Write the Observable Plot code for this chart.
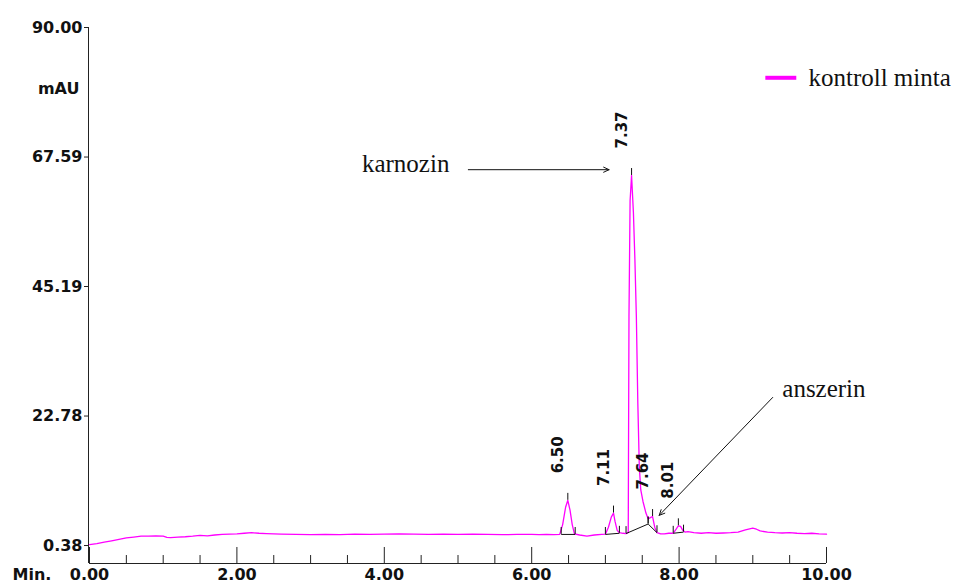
<!DOCTYPE html>
<html><head><meta charset="utf-8">
<script src="https://cdn.jsdelivr.net/npm/d3@7"></script>
<script src="https://cdn.jsdelivr.net/npm/@observablehq/plot@0.6"></script>
<style>
html,body{margin:0;padding:0;background:#fff;}
#chart{width:956px;height:585px;}
</style></head><body><div id="chart"></div>
<script>
// Chromatogram trace (retention time in min, absorbance in mAU)
const time = [0.00,0.10,0.20,0.30,0.40,0.50,0.60,0.70,0.80,0.90,1.00,1.05,1.10,1.20,1.30,1.40,1.50,1.60,1.70,1.80,1.90,2.00,2.10,2.20,2.30,2.40,2.50,2.60,2.80,3.00,3.20,3.40,3.60,3.80,4.00,4.20,4.40,4.60,4.80,5.00,5.20,5.40,5.60,5.80,6.00,6.10,6.20,6.30,6.38,6.42,6.46,6.49,6.52,6.55,6.58,6.65,6.75,6.85,6.95,7.00,7.04,7.08,7.11,7.13,7.16,7.19,7.24,7.28,7.31,7.32,7.335,7.355,7.38,7.40,7.42,7.44,7.46,7.48,7.51,7.55,7.58,7.61,7.64,7.67,7.70,7.75,7.80,7.86,7.92,7.96,7.99,8.02,8.05,8.08,8.12,8.20,8.30,8.40,8.50,8.60,8.70,8.80,8.90,9.00,9.05,9.10,9.20,9.30,9.40,9.50,9.60,9.70,9.80,9.90,10.00];
const signal = [0.55,0.7,0.95,1.2,1.45,1.7,1.85,2.0,2.0,2.05,2.0,1.8,1.75,1.85,1.9,2.0,2.15,2.05,2.2,2.3,2.35,2.4,2.5,2.6,2.5,2.45,2.4,2.35,2.3,2.25,2.3,2.25,2.35,2.3,2.35,2.4,2.35,2.3,2.35,2.3,2.35,2.3,2.25,2.3,2.3,2.25,2.3,2.25,2.3,4.0,7.0,8.2,6.5,4.0,2.4,2.2,2.0,2.2,2.3,2.35,3.5,5.3,6.0,4.6,3.0,2.6,2.5,2.45,2.6,40,60,64.4,58,50,40,25,14,10,8,6,5.0,5.2,5.4,3.5,2.6,2.4,2.4,2.5,2.5,3.2,3.8,3.7,3.0,2.7,2.8,2.6,2.5,2.6,2.5,2.55,2.6,2.7,3.1,3.4,3.2,2.9,2.7,2.6,2.55,2.6,2.5,2.45,2.5,2.4,2.35];

// Detected peaks (apex time, apex height, printed retention time)
const peakTime = [6.49, 7.11, 7.355, 7.64, 7.99];
const peakHeight = [8.2, 6.0, 64.4, 5.4, 3.8];
const peakLabel = ["6.50", "7.11", "7.37", "7.64", "8.01"];

// Integration baselines: [start t, start mAU, end t, end mAU]
const baseStartT = [6.40, 7.00, 7.28, 7.58, 7.92];
const baseStartV = [2.3, 2.3, 2.45, 4.1, 2.5];
const baseEndT = [6.59, 7.19, 7.58, 7.70, 8.06];
const baseEndV = [2.3, 2.5, 4.1, 2.6, 2.7];

// Axis ticks
const yTicks = [0.38, 22.78, 45.19, 67.59, 90.00];
const xLabels = [0, 2, 4, 6, 8, 10];
const xMinor = [0.5,1,1.5,2.5,3,3.5,4.5,5,5.5,6.5,7,7.5,8.5,9,9.5];

// Annotations
const annotText = ["karnozin", "anszerin"];
const annotT = [4.29, 9.40];
const annotV = [66.3, 27.5];
const arrowFromT = [5.14, 9.27];
const arrowFromV = [65.4, 26.0];
const arrowToT = [7.05, 7.73];
const arrowToV = [65.4, 5.6];

const legendName = "kontroll minta";
const legendT = [9.17, 9.59, 9.755];
const legendV = 81.3;

const yMin = -2.73, yMax = 90;
const trace = time.map((t, i) => ({t, v: signal[i]}));
const peaks = peakTime.map((t, i) => ({t, v: peakHeight[i], label: peakLabel[i]}));
const segs = baseStartT.map((t, i) => ({x1: t, y1: baseStartV[i], x2: baseEndT[i], y2: baseEndV[i]}));
const bounds = [];
segs.forEach(s => { bounds.push({t: s.x1, v: s.y1}); bounds.push({t: s.x2, v: s.y2}); });
const annots = annotText.map((s, i) => ({s, t: annotT[i], v: annotV[i]}));
const arrows = arrowFromT.map((t, i) => ({x1: t, y1: arrowFromV[i], x2: arrowToT[i], y2: arrowToV[i]}));

const axisFont = {fontFamily: "DejaVu Sans", fontWeight: "bold", fontSize: 16};
const serif = {fontFamily: "Liberation Serif", fontSize: 25, fill: "#111"};
const tickLen = 1.2, minorLen = 1.38, majorLen = 2.77;

const chart = Plot.plot({
  width: 956, height: 585,
  marginLeft: 89, marginRight: 130, marginTop: 27, marginBottom: 22,
  x: {domain: [0, 10]},
  y: {domain: [yMin, yMax]},
  style: {background: "white", fontFamily: "DejaVu Sans", color: "#111"},
  marks: [
    Plot.ruleX([0], {y1: yMin, y2: yMax, stroke: "#222", dx: -1}),
    Plot.ruleY([yMin], {stroke: "#222"}),
    Plot.ruleX(xMinor, {x: d => d, y1: yMin, y2: yMin + minorLen, stroke: "#222"}),
    Plot.ruleX(xLabels, {x: d => d, y1: yMin, y2: yMin + majorLen, stroke: "#222"}),
    Plot.axisY({ticks: yTicks, tickFormat: d => d.toFixed(2), tickSize: 5, tickPadding: 2, label: null, stroke: "#222", ...axisFont}),
    Plot.axisX({ticks: xLabels, tickFormat: d => d.toFixed(2), tickSize: 0, tickPadding: 5, label: null, ...axisFont}),
    Plot.text([{v: 79.4}], {y: "v", frameAnchor: "left", text: () => "mAU", dx: -10, textAnchor: "end", ...axisFont}),
    Plot.text(["Min."], {frameAnchor: "bottom-left", text: d => d, textAnchor: "start", lineAnchor: "top", dx: -77, dy: 5, ...axisFont}),
    Plot.line(trace, {x: "t", y: "v", stroke: "#ff00ff", strokeWidth: 1.3}),
    Plot.link(segs, {x1: "x1", y1: "y1", x2: "x2", y2: "y2", stroke: "#111", strokeWidth: 1}),
    Plot.ruleX(bounds, {x: "t", y1: "v", y2: d => d.v + tickLen, stroke: "#111"}),
    Plot.ruleX(peaks, {x: "t", y1: "v", y2: d => d.v + tickLen, stroke: "#111"}),
    Plot.text(peaks, {x: "t", y: "v", text: "label", rotate: -90, textAnchor: "start", lineAnchor: "bottom", dx: -5, dy: -27, fontFamily: "DejaVu Sans", fontWeight: "bold", fontSize: 15}),
    Plot.arrow(arrows, {x1: "x1", y1: "y1", x2: "x2", y2: "y2", stroke: "#111", strokeWidth: 1, headLength: 9, headAngle: 50}),
    Plot.text([annots[0]], {x: "t", y: "v", text: "s", textAnchor: "middle", ...serif}),
    Plot.text([annots[1]], {x: "t", y: "v", text: "s", textAnchor: "start", ...serif}),
    Plot.link([{x1: legendT[0], x2: legendT[1], y: legendV}], {x1: "x1", x2: "x2", y1: "y", y2: "y", stroke: "#ff00ff", strokeWidth: 4}),
    Plot.text([{t: legendT[2], v: legendV, s: legendName}], {x: "t", y: "v", text: "s", textAnchor: "start", ...serif})
  ]
});
document.getElementById("chart").appendChild(chart);
</script>
</body></html>
